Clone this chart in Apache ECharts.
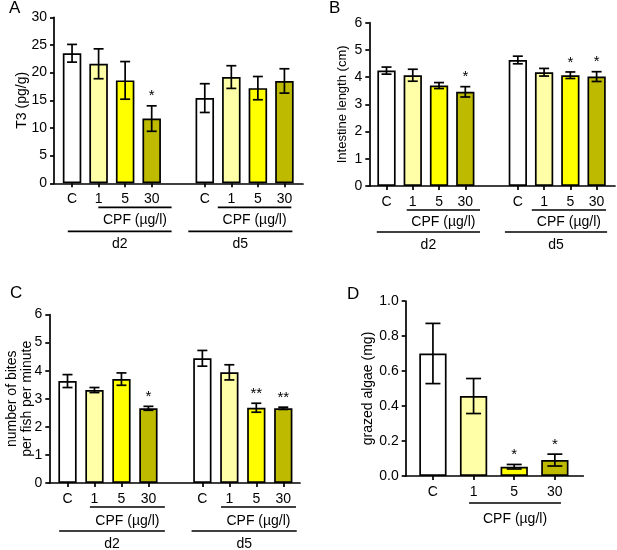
<!DOCTYPE html>
<html>
<head>
<meta charset="utf-8">
<script src="https://cdn.jsdelivr.net/npm/echarts@6/dist/echarts.min.js"></script>
<style>html,body{margin:0;padding:0;background:#fff}#c{width:617px;height:550px}</style>
</head>
<body>
<div id="c"></div>
<script>
// ---------- DATA ----------
const doseLabels = ['C', '1', '5', '30'];
const dayLabels = ['d2', 'd5'];
const cpfLabel = 'CPF (\u00b5g/l)';

const A_mean = [23.5, 21.6, 18.6, 11.7, 15.4, 19.2, 17.2, 18.5];
const A_err  = [1.6, 2.7, 3.4, 2.3, 2.6, 2.05, 2.1, 2.2];
const A_sig  = ['', '', '', '*', '', '', '', ''];

const B_mean = [4.24, 4.07, 3.69, 3.46, 4.63, 4.18, 4.07, 4.02];
const B_err  = [0.13, 0.22, 0.11, 0.19, 0.14, 0.14, 0.12, 0.18];
const B_sig  = ['', '', '', '*', '', '', '*', '*'];

const C_mean = [3.63, 3.31, 3.70, 2.66, 4.44, 3.94, 2.68, 2.66];
const C_err  = [0.23, 0.09, 0.22, 0.07, 0.28, 0.27, 0.16, 0.04];
const C_sig  = ['', '', '', '*', '', '', '**', '**'];

const D_mean = [0.70, 0.457, 0.053, 0.091];
const D_err  = [0.172, 0.10, 0.013, 0.034];
const D_sig  = ['', '', '*', '*'];

// bracket spans under the axes, in slot units
const A_brackets = [[0.99, 3.75], [-0.16, 3.75], [5.49, 8.26], [4.38, 8.30]];
const B_brackets = [[0.77, 3.56], [-0.37, 3.56], [5.53, 8.36], [4.51, 8.40]];
const C_brackets = [[0.83, 3.61], [-0.31, 3.61], [5.69, 8.47], [4.60, 8.50]];
const D_brackets = [[0.89, 3.15]];

// ---------- STYLE / LAYOUT ----------
const FONT = 'Arial, "Liberation Sans", Helvetica, sans-serif';
const PALETTE = ['#FFFFFF', '#FFFFA8', '#FFFF00', '#BDBA00'];
const LW = 1.7;

const panels = [
  {key:'A', mean:A_mean, err:A_err, sig:A_sig, br:A_brackets,
   left:54, top:17.3, width:249, height:166, xmin:-0.68, xmax:8.70, barW:18.5, cap:10,
   ymax:30, interval:5, dec:0, name:'T3 (pg/g)', nameGap:24, nameSize:14,
   off:[24, 37, 48, 61]},
  {key:'B', mean:B_mean, err:B_err, sig:B_sig, br:B_brackets,
   left:369.3, top:22.7, width:245.7, height:163.3, xmin:-0.655, xmax:8.70, barW:18.3, cap:10,
   ymax:6, interval:1, dec:0, name:'Intestine length (cm)', nameGap:19, nameSize:13,
   off:[24, 36, 46, 59]},
  {key:'C', mean:C_mean, err:C_err, sig:C_sig, br:C_brackets,
   left:49.3, top:314.5, width:250.7, height:168.5, xmin:-0.675, xmax:8.62, barW:18.3, cap:10,
   ymax:6, interval:1, dec:0, name:'number of bites\nper fish per minute', nameGap:15, nameSize:14,
   off:[24, 38, 48, 61]},
  {key:'D', mean:D_mean, err:D_err, sig:D_sig, br:D_brackets,
   left:405.7, top:301, width:177.6, height:175, xmin:-0.67, xmax:3.70, barW:27.3, cap:15,
   ymax:1, interval:0.2, dec:1, name:'grazed algae (mg)', nameGap:30, nameSize:14,
   off:[27, 43]}
];
const letters = [
  {t:'A', left:9, top:0}, {t:'B', left:329, top:0},
  {t:'C', left:10, top:285}, {t:'D', left:347, top:286}
];

function slotOf(i) { return i < 4 ? i : i + 1; }

const option = {
  animation: false,
  backgroundColor: '#fff',
  title: letters.map(l => ({text:l.t, left:l.left, top:l.top, padding:0,
    textStyle:{fontFamily:FONT, fontSize:17, fontWeight:'normal', color:'#000'}})),
  grid: [], xAxis: [], yAxis: [], series: []
};

panels.forEach((p, gi) => {
  const slots = p.mean.map((_, i) => slotOf(i));
  const slotLabel = {};
  slots.forEach((s, i) => { slotLabel[s] = doseLabels[i % 4]; });

  option.grid.push({left:p.left, top:p.top, width:p.width, height:p.height,
    containLabel:false, outerBoundsMode:'none'});
  option.xAxis.push({
    type:'value', gridIndex:gi, min:p.xmin, max:p.xmax,
    splitLine:{show:false},
    axisLine:{show:true, onZero:false, lineStyle:{color:'#000', width:LW}},
    axisTick:{show:true, customValues:slots, length:4, lineStyle:{color:'#000', width:LW}},
    axisLabel:{show:true, customValues:slots, margin:9, color:'#000', fontFamily:FONT, fontSize:14,
      formatter: v => slotLabel[Math.round(v)] || ''}
  });
  option.yAxis.push({
    type:'value', gridIndex:gi, min:0, max:p.ymax, interval:p.interval,
    splitLine:{show:false},
    axisLine:{show:true, onZero:false, lineStyle:{color:'#000', width:LW}},
    axisTick:{show:true, length:4, lineStyle:{color:'#000', width:LW}},
    axisLabel:{margin:7, color:'#000', fontFamily:FONT, fontSize:14,
      formatter: v => Number(v).toFixed(p.dec)},
    name:p.name, nameLocation:'middle', nameRotate:90, nameGap:p.nameGap, nameMoveOverlap:false,
    nameTextStyle:{color:'#000', fontFamily:FONT, fontSize:p.nameSize, lineHeight:15}
  });

  // bars
  option.series.push({
    type:'bar', xAxisIndex:gi, yAxisIndex:gi, barWidth:p.barW, z:2,
    data: p.mean.map((m, i) => [slots[i], m]),
    itemStyle:{color: prm => PALETTE[prm.dataIndex % 4], borderColor:'#000', borderWidth:LW}
  });

  // error bars + significance marks
  option.series.push({
    type:'custom', xAxisIndex:gi, yAxisIndex:gi, z:5, clip:false,
    encode:{x:0, y:1},
    data: p.mean.map((m, i) => [slots[i], m, p.err[i]]),
    renderItem: (params, api) => {
      const x = api.value(0), m = api.value(1), e = api.value(2);
      const t = api.coord([x, m + e]), b = api.coord([x, m - e]);
      const cx = t[0], h = p.cap / 2;
      const st = {stroke:'#000', lineWidth:LW};
      const ch = [
        {type:'line', shape:{x1:cx, y1:t[1], x2:cx, y2:b[1]}, style:st},
        {type:'line', shape:{x1:cx-h, y1:t[1], x2:cx+h, y2:t[1]}, style:st},
        {type:'line', shape:{x1:cx-h, y1:b[1], x2:cx+h, y2:b[1]}, style:st}
      ];
      const s = p.sig[params.dataIndex];
      if (s) ch.push({type:'text', style:{text:s, x:cx, y:t[1]-2, fill:'#000',
        fontFamily:FONT, fontSize:15, align:'center', verticalAlign:'bottom'}});
      return {type:'group', children:ch};
    }
  });

  // brackets under the axis: CPF lines and day lines
  option.series.push({
    type:'custom', xAxisIndex:gi, yAxisIndex:gi, z:5, clip:false, silent:true,
    encode:{x:[0, 1], y:2},
    data: p.br.map(b => [b[0], b[1], 0]),
    renderItem: (params, api) => {
      const i = params.dataIndex;
      const a = api.coord([api.value(0), 0]), c = api.coord([api.value(1), 0]);
      const isDay = (i % 2 === 1);
      const lineOff = isDay ? p.off[2] : p.off[0];
      const textOff = isDay ? p.off[3] : p.off[1];
      const label = isDay ? dayLabels[(i - 1) / 2] : cpfLabel;
      const y = a[1];
      return {type:'group', children:[
        {type:'line', shape:{x1:a[0], y1:y+lineOff, x2:c[0], y2:y+lineOff},
         style:{stroke:'#000', lineWidth:LW}},
        {type:'text', style:{text:label, x:(a[0]+c[0])/2, y:y+textOff, fill:'#000',
         fontFamily:FONT, fontSize:14, align:'center', verticalAlign:'middle'}}
      ]};
    }
  });
});

const chart = echarts.init(document.getElementById('c'), null, {renderer:'canvas'});
chart.setOption(option);
</script>
</body>
</html>
